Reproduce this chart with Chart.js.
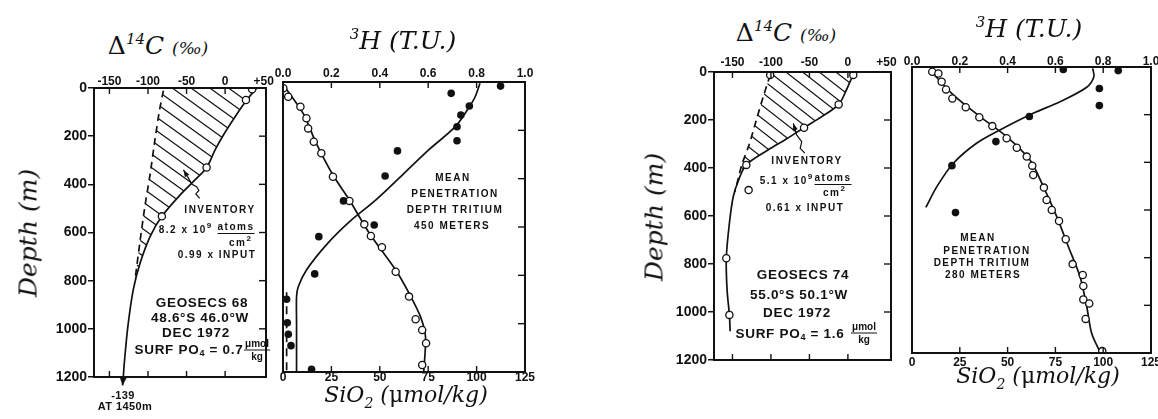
<!DOCTYPE html>
<html>
<head>
<meta charset="utf-8">
<title>GEOSECS 68 / 74 — bomb radiocarbon and tritium profiles</title>
<script src="https://cdn.jsdelivr.net/npm/chart.js@4.4.1/dist/chart.umd.min.js"></script>
<style>
  html, body { margin: 0; padding: 0; background: #fff; }
  body { width: 1158px; height: 419px; position: relative; overflow: hidden; color: #111; }
  .panel { position: absolute; }
  .panel canvas { display: block; }
  .t { position: absolute; transform: translate(-50%, -50%); white-space: nowrap; line-height: 1; }
  .ttl { font-family: 'DejaVu Serif', serif; font-style: italic; font-size: 25px; }
  .ttl sup { font-size: 15px; vertical-align: 10px; }
  .ttl sub { font-size: 14px; vertical-align: -6px; }
  .ttl .pm { font-size: 17px; }
  .ttl .up { font-style: normal; }
  .ttl.si { font-size: 22px; }
  .vert { transform: translate(-50%, -50%) rotate(-90deg); }
  .cap { font-family: 'Liberation Sans', Arial, sans-serif; font-weight: bold; font-size: 10px; letter-spacing: 1.5px; }
  .cap sup { font-size: 8px; vertical-align: 5px; letter-spacing: 0; }
  .ul { border-bottom: 1.4px solid #111; padding-bottom: 1px; }
  .stn { font-family: 'Liberation Sans', Arial, sans-serif; font-weight: bold; font-size: 13.5px; letter-spacing: 0.7px; }
  .stn sub { font-size: 9px; vertical-align: -2px; }
  .unit { font-family: 'Liberation Sans', Arial, sans-serif; font-weight: bold; font-size: 10px; text-align: center; }
  .unit span { display: block; padding: 0 1px; }
  .unit span:first-child { border-bottom: 1.4px solid #111; padding-bottom: 1px; margin-bottom: 1px; }
  .small { font-family: 'Liberation Sans', Arial, sans-serif; font-weight: bold; font-size: 11px; letter-spacing: 0.4px; }
</style>
</head>
<body>

<div class="panel" style="left:40px;top:60px"><canvas id="st68c14" width="240" height="340"></canvas></div>
<div class="panel" style="left:268px;top:60px"><canvas id="st68h3" width="276" height="330"></canvas></div>
<div class="panel" style="left:660px;top:50px"><canvas id="st74c14" width="245" height="330"></canvas></div>
<div class="panel" style="left:897px;top:45px"><canvas id="st74h3" width="261" height="330"></canvas></div>

<!-- Station 68: radiocarbon panel -->
<div class="t ttl" style="left:158px;top:45px"><span class="up">Δ</span><sup>14</sup>C <span class="pm">(‰)</span></div>
<div class="t ttl vert" style="left:28px;top:233px">Depth (m)</div>
<div class="t cap" style="left:220px;top:210px">INVENTORY</div>
<div class="t cap" style="left:185px;top:228px">8.2 x 10<sup>9</sup></div>
<div class="t cap" style="left:236px;top:227px"><span class="ul">atoms</span></div>
<div class="t cap" style="left:240px;top:241px">cm<sup>2</sup></div>
<div class="t cap" style="left:217px;top:255px">0.99 x INPUT</div>
<div class="t stn" style="left:202px;top:303px">GEOSECS 68</div>
<div class="t stn" style="left:200px;top:318px">48.6°S 46.0°W</div>
<div class="t stn" style="left:196px;top:333px">DEC 1972</div>
<div class="t stn" style="left:189px;top:350px">SURF PO<sub>4</sub> = 0.7</div>
<div class="t unit" style="left:257px;top:350px"><span>μmol</span><span>kg</span></div>
<div class="t small" style="left:123px;top:395px">-139</div>
<div class="t small" style="left:125px;top:406px">AT 1450m</div>

<!-- Station 68: tritium / silica panel -->
<div class="t ttl" style="left:403px;top:40px"><sup>3</sup>H (T.U.)</div>
<div class="t cap" style="left:453px;top:178px">MEAN</div>
<div class="t cap" style="left:455px;top:194px">PENETRATION</div>
<div class="t cap" style="left:455px;top:210px">DEPTH TRITIUM</div>
<div class="t cap" style="left:452px;top:226px">450 METERS</div>
<div class="t ttl si" style="left:406px;top:397px">SiO<sub>2</sub> (<span class="up">μ</span>mol/kg)</div>

<!-- Station 74: radiocarbon panel -->
<div class="t ttl" style="left:786px;top:32px"><span class="up">Δ</span><sup>14</sup>C <span class="pm">(‰)</span></div>
<div class="t ttl vert" style="left:654px;top:217px">Depth (m)</div>
<div class="t cap" style="left:807px;top:161px">INVENTORY</div>
<div class="t cap" style="left:786px;top:179px">5.1 x 10<sup>9</sup></div>
<div class="t cap" style="left:833px;top:178px"><span class="ul">atoms</span></div>
<div class="t cap" style="left:834px;top:191px">cm<sup>2</sup></div>
<div class="t cap" style="left:805px;top:208px">0.61 x INPUT</div>
<div class="t stn" style="left:803px;top:275px">GEOSECS 74</div>
<div class="t stn" style="left:799px;top:295px">55.0°S 50.1°W</div>
<div class="t stn" style="left:797px;top:313px">DEC 1972</div>
<div class="t stn" style="left:790px;top:334px">SURF PO<sub>4</sub> = 1.6</div>
<div class="t unit" style="left:864px;top:333px"><span>μmol</span><span>kg</span></div>

<!-- Station 74: tritium / silica panel -->
<div class="t ttl" style="left:1029px;top:28px"><sup>3</sup>H (T.U.)</div>
<div class="t cap" style="left:978px;top:238px">MEAN</div>
<div class="t cap" style="left:987px;top:251px">PENETRATION</div>
<div class="t cap" style="left:982px;top:263px">DEPTH TRITIUM</div>
<div class="t cap" style="left:983px;top:275px">280 METERS</div>
<div class="t ttl si" style="left:1038px;top:378px">SiO<sub>2</sub> (<span class="up">μ</span>mol/kg)</div>

<script>
const INK = '#111';

// ---------- axis ticks ----------
const depthTicks = [0, 200, 400, 600, 800, 1000, 1200];
const depthLabels = ['0', '200', '400', '600', '800', '1000', '1200'];
const c14Ticks = [-150, -100, -50, 0, 50];
const c14Labels = ['-150', '-100', '-50', '0', '+50'];
const tritiumTicks = [0, 0.2, 0.4, 0.6, 0.8, 1.0];
const tritiumLabels = ['0.0', '0.2', '0.4', '0.6', '0.8', '1.0'];
const silicaTicks = [0, 25, 50, 75, 100, 125];
const silicaLabels = ['0', '25', '50', '75', '100', '125'];

// ---------- GEOSECS 68: Δ14C (‰) vs depth (m) ----------
const st68C14Depth = [5, 50, 330, 533];
const st68C14 = [35, 27, -24, -82];
const st68ProfileDepth = [0, 50, 119, 194, 257, 330, 388, 443, 533, 615, 725, 836, 988, 1153, 1200, 1235];
const st68Profile = [41, 28, 13, -2, -13, -24, -41, -58, -82, -97, -110, -119, -126, -131, -132, -133];
const st68PreBombDepth = [11, 91, 215, 353, 491, 629, 800];
const st68PreBomb = [-80, -85, -91, -97, -104, -110, -117];
const st68PointerDepth = [340, 372, 400, 410, 425, 440, 458];
const st68Pointer = [-54, -48, -43, -37, -34, -38, -33];

// ---------- GEOSECS 68: silica (µmol/kg) and tritium (T.U.) ----------
const st68SiDepth = [26, 61, 102, 150, 192, 247, 295, 392, 492, 589, 637, 684, 785, 888, 982, 1026, 1081, 1171];
const st68Si = [0.2, 2.7, 9.0, 12.1, 13.0, 15.9, 19.8, 25.8, 34.3, 42.0, 45.4, 51.1, 58.2, 65.1, 68.5, 71.9, 73.9, 71.9];
const st68SiFitDepth = [10, 130, 254, 385, 488, 626, 778, 874, 971, 1054, 1199];
const st68SiFit = [0, 10.4, 17.2, 25.8, 34.3, 44.6, 58.2, 65.1, 71.0, 73.6, 72.7];
const st68TDepth = [17, 47, 99, 137, 185, 243, 285, 389, 492, 592, 640, 794, 899, 996, 1044, 1091, 1189];
const st68T = [0.899, 0.695, 0.770, 0.735, 0.719, 0.719, 0.473, 0.422, 0.250, 0.377, 0.148, 0.131, 0.015, 0.018, 0.022, 0.033, 0.118];
const st68TFitDepth = [5, 61, 109, 185, 281, 385, 488, 578, 674, 778, 847, 888, 1000, 1200];
const st68TFit = [0.814, 0.794, 0.766, 0.712, 0.602, 0.493, 0.384, 0.275, 0.179, 0.097, 0.063, 0.056, 0.056, 0.056];
const st68TDeepDepth = [870, 1200];
const st68TDeep = [0.015, 0.015];

// ---------- GEOSECS 74: Δ14C (‰) vs depth (m) ----------
const st74C14Depth = [12, 12, 135, 232, 387, 492, 776, 1012];
const st74C14 = [-101, 7, -12, -57, -132, -129, -158, -154];
const st74ProfileDepth = [0, 12, 75, 135, 186, 232, 281, 325, 387, 450, 520, 631, 776, 908, 1012, 1080];
const st74Profile = [11, 7, -2, -12, -34, -57, -81, -104, -132, -142, -149, -154, -158, -157, -154, -153];
const st74PreBombDepth = [12, 103, 200, 300, 387, 450, 500];
const st74PreBomb = [-101, -110, -119, -128, -138, -143, -147];
const st74PointerDepth = [214, 262, 290, 318, 338];
const st74Pointer = [-71, -66.6, -60, -62, -56];

// ---------- GEOSECS 74: silica (µmol/kg) and tritium (T.U.) ----------
const st74SiDepth = [20, 27, 62, 94, 132, 169, 211, 248, 299, 339, 376, 414, 453, 506, 558, 600, 646, 723, 827, 873, 919, 975, 992, 1057, 1192];
const st74Si = [10.6, 13.8, 15.5, 17.8, 21.1, 28.1, 35.2, 42.0, 49.5, 54.8, 60.0, 62.9, 63.4, 69.0, 70.4, 73.1, 76.9, 80.4, 84.0, 89.3, 89.6, 89.6, 92.7, 90.8, 99.5];
const st74SiFitDepth = [13, 117, 208, 292, 390, 502, 628, 754, 880, 1006, 1118, 1195];
const st74SiFit = [9.4, 21.6, 35.6, 49.5, 61.7, 68.7, 75.7, 81.8, 87.9, 91.4, 94.0, 98.3];
const st74TDepth = [10, 15, 90, 162, 208, 313, 414, 611];
const st74T = [0.633, 0.863, 0.784, 0.784, 0.491, 0.351, 0.167, 0.182];
const st74TFitDepth = [6, 41, 85, 146, 194, 264, 320, 404, 502, 589];
const st74TFit = [0.756, 0.761, 0.731, 0.619, 0.507, 0.368, 0.270, 0.173, 0.104, 0.058];

// ---------- helpers ----------
const pairs = (values, depths) => values.map((v, i) => ({ x: v, y: depths[i] }));

function curve(values, depths, extra) {
  return Object.assign({
    data: pairs(values, depths), borderColor: INK, borderWidth: 1.7,
    pointRadius: 0, tension: 0.35, fill: false
  }, extra || {});
}
function openDots(values, depths, extra) {
  return Object.assign({
    data: pairs(values, depths), showLine: false, pointRadius: 3.6,
    pointBackgroundColor: '#fff', pointBorderColor: INK, pointBorderWidth: 1.3
  }, extra || {});
}
function solidDots(values, depths, extra) {
  return Object.assign({
    data: pairs(values, depths), showLine: false, pointRadius: 3.8,
    pointBackgroundColor: INK, pointBorderColor: INK, pointBorderWidth: 0
  }, extra || {});
}

const fixedHeight = h => s => { s.height = h; s.paddingLeft = 0; s.paddingRight = 0; };
const fixedWidth = w => s => { s.width = w; s.paddingTop = 0; s.paddingBottom = 0; };
const useTicks = values => s => { s.ticks = values.map(v => ({ value: v })); };

function valueAxis(position, min, max, values, labels, height, padding) {
  return {
    type: 'linear', position, min, max,
    afterBuildTicks: useTicks(values), afterFit: fixedHeight(height),
    grid: { display: false, drawTicks: false }, border: { display: false },
    ticks: {
      padding, autoSkip: false, maxRotation: 0, minRotation: 0, color: INK,
      font: { size: 12, weight: 'bold' }, callback: (v, i) => labels[i]
    }
  };
}
function depthAxis(width) {
  return {
    type: 'linear', position: 'left', reverse: true, min: 0, max: 1200,
    afterBuildTicks: useTicks(depthTicks), afterFit: fixedWidth(width),
    grid: { display: true, drawOnChartArea: false, drawTicks: true, tickLength: 6, color: INK, lineWidth: 1.5 },
    border: { display: false },
    ticks: { padding: 1, color: INK, font: { size: 14, weight: 'bold' }, callback: (v, i) => depthLabels[i] }
  };
}
const hiddenDepthAxis = () => ({ type: 'linear', display: false, reverse: true, min: 0, max: 1200 });

function arrowHead(ctx, tip, from, len, half) {
  const a = Math.atan2(tip.y - from.y, tip.x - from.x);
  const c = Math.cos(a), s = Math.sin(a);
  ctx.beginPath();
  ctx.moveTo(tip.x, tip.y);
  ctx.lineTo(tip.x - len * c + half * s, tip.y - len * s - half * c);
  ctx.lineTo(tip.x - len * c - half * s, tip.y - len * s + half * c);
  ctx.closePath();
  ctx.fill();
}

// diagonal hatching between the pre-bomb line (left) and the measured profile (right)
function hatchBetween(chart, h) {
  const ctx = chart.ctx, a = chart.chartArea;
  const outer = chart.getDatasetMeta(h.outer).dataset;
  const inner = chart.getDatasetMeta(h.inner).dataset;
  [outer, inner].forEach(l => { if (l.updateControlPoints) l.updateControlPoints(a, 'x'); });
  ctx.save();
  ctx.beginPath(); ctx.rect(a.left, a.top, a.right - a.left, a.bottom - a.top); ctx.clip();
  let p = outer.points;
  ctx.beginPath(); outer.path(ctx);
  ctx.lineTo(a.left - 40, p[p.length - 1].y);
  ctx.lineTo(a.left - 40, a.top - 40);
  ctx.lineTo(p[0].x, a.top - 40);
  ctx.closePath(); ctx.clip();
  p = inner.points;
  ctx.beginPath(); inner.path(ctx);
  ctx.lineTo(a.right + 40, p[p.length - 1].y);
  ctx.lineTo(a.right + 40, a.top - 40);
  ctx.lineTo(p[0].x, a.top - 40);
  ctx.closePath(); ctx.clip();
  ctx.strokeStyle = INK; ctx.lineWidth = 1.2;
  ctx.beginPath();
  const w = a.right - a.left;
  for (let y = a.top - h.slope * w - h.gap + h.phase; y < a.bottom + h.gap; y += h.gap) {
    ctx.moveTo(a.left, y); ctx.lineTo(a.right, y + h.slope * w);
  }
  ctx.stroke();
  ctx.restore();
}

function profileDecor(spec) {
  return {
    id: 'profileDecor',
    beforeDatasetsDraw(chart) { if (spec.hatch) hatchBetween(chart, spec.hatch); },
    afterDatasetsDraw(chart) {
      const ctx = chart.ctx, a = chart.chartArea;
      ctx.save();
      ctx.strokeStyle = INK; ctx.fillStyle = INK;
      ctx.lineWidth = 2;
      ctx.strokeRect(a.left, a.top, a.right - a.left, a.bottom - a.top);
      ctx.lineWidth = 1.4;
      (spec.ticks || []).forEach(t => {
        const s = chart.scales[t.scale];
        t.values.forEach(v => {
          const q = s.getPixelForValue(v);
          ctx.beginPath();
          if (t.side === 'top') { ctx.moveTo(q, a.top); ctx.lineTo(q, a.top + 6); }
          if (t.side === 'bottom') { ctx.moveTo(q, a.bottom); ctx.lineTo(q, a.bottom - 6); }
          if (t.side === 'right') { ctx.moveTo(a.right, q); ctx.lineTo(a.right - 7, q); }
          if (t.side === 'left') { ctx.moveTo(a.left, q); ctx.lineTo(a.left + 7, q); }
          ctx.stroke();
        });
      });
      (spec.pointers || []).forEach(ptr => {
        const xs = chart.scales.x, ys = chart.scales.y;
        const pts = ptr.values.map((v, i) => ({ x: xs.getPixelForValue(v), y: ys.getPixelForValue(ptr.depths[i]) }));
        ctx.lineWidth = 1.2;
        ctx.beginPath();
        pts.forEach((q, i) => i ? ctx.lineTo(q.x, q.y) : ctx.moveTo(q.x, q.y));
        ctx.stroke();
        arrowHead(ctx, pts[0], pts[1], 7, 2.6);
      });
      if (spec.endArrow != null) {
        const pts = chart.getDatasetMeta(spec.endArrow).data;
        arrowHead(ctx, pts[pts.length - 1], pts[pts.length - 2], 8, 3.5);
      }
      ctx.restore();
    }
  };
}

const baseOptions = (padding, scales) => ({
  responsive: false, animation: false, events: [],
  layout: { padding },
  plugins: { legend: { display: false }, tooltip: { enabled: false } },
  scales
});

const innerC14 = c14Ticks.slice(0, -1);
const innerDepth = depthTicks.slice(1, -1);
const innerTritium = tritiumTicks.slice(1, -1);
const innerSilica = silicaTicks.slice(1, -1);

// ---------- GEOSECS 68 radiocarbon ----------
new Chart(document.getElementById('st68c14'), {
  type: 'line',
  data: {
    datasets: [
      openDots(st68C14, st68C14Depth),
      curve(st68Profile, st68ProfileDepth, { clip: false }),
      curve(st68PreBomb, st68PreBombDepth, { borderDash: [7, 5], tension: 0.2 })
    ]
  },
  options: baseOptions({ left: 0, top: 0, right: 14, bottom: 23 }, {
    x: valueAxis('top', -170, 53, c14Ticks, c14Labels, 28, -1),
    y: depthAxis(54)
  }),
  plugins: [profileDecor({
    hatch: { outer: 1, inner: 2, slope: 0.72, gap: 13.5, phase: 0 },
    ticks: [
      { side: 'top', scale: 'x', values: innerC14 },
      { side: 'bottom', scale: 'x', values: innerC14 },
      { side: 'right', scale: 'y', values: innerDepth }
    ],
    pointers: [{ values: st68Pointer, depths: st68PointerDepth }],
    endArrow: 1
  })]
});

// ---------- GEOSECS 68 tritium and silica ----------
new Chart(document.getElementById('st68h3'), {
  type: 'line',
  data: {
    datasets: [
      solidDots(st68T, st68TDepth, { xAxisID: 'xt' }),
      openDots(st68Si, st68SiDepth, { xAxisID: 'x' }),
      curve(st68SiFit, st68SiFitDepth, { xAxisID: 'x', tension: 0.3 }),
      curve(st68TFit, st68TFitDepth, { xAxisID: 'xt', tension: 0.3 }),
      curve(st68TDeep, st68TDeepDepth, { xAxisID: 'xt', tension: 0, borderDash: [8, 6] })
    ]
  },
  options: baseOptions({ left: 15, top: 0, right: 19, bottom: 4 }, {
    xt: valueAxis('top', 0, 1, tritiumTicks, tritiumLabels, 22, 1),
    x: valueAxis('bottom', 0, 125, silicaTicks, silicaLabels, 14, -2),
    y: hiddenDepthAxis()
  }),
  plugins: [profileDecor({
    ticks: [
      { side: 'top', scale: 'xt', values: innerTritium },
      { side: 'bottom', scale: 'x', values: innerSilica },
      { side: 'right', scale: 'y', values: innerDepth }
    ]
  })]
});

// ---------- GEOSECS 74 radiocarbon ----------
new Chart(document.getElementById('st74c14'), {
  type: 'line',
  data: {
    datasets: [
      openDots(st74C14, st74C14Depth),
      curve(st74Profile, st74ProfileDepth),
      curve(st74PreBomb, st74PreBombDepth, { borderDash: [7, 5], tension: 0.2 })
    ]
  },
  options: baseOptions({ left: 0, top: 0, right: 14, bottom: 20 }, {
    x: valueAxis('top', -174, 56, c14Ticks, c14Labels, 22, 2),
    y: depthAxis(54)
  }),
  plugins: [profileDecor({
    hatch: { outer: 1, inner: 2, slope: 0.78, gap: 13, phase: 4 },
    ticks: [
      { side: 'top', scale: 'x', values: innerC14 },
      { side: 'bottom', scale: 'x', values: innerC14 },
      { side: 'right', scale: 'y', values: innerDepth }
    ],
    pointers: [{ values: st74Pointer, depths: st74PointerDepth }]
  })]
});

// ---------- GEOSECS 74 tritium and silica ----------
new Chart(document.getElementById('st74h3'), {
  type: 'line',
  data: {
    datasets: [
      solidDots(st74T, st74TDepth, { xAxisID: 'xt' }),
      openDots(st74Si, st74SiDepth, { xAxisID: 'x' }),
      curve(st74SiFit, st74SiFitDepth, { xAxisID: 'x', tension: 0.3 }),
      curve(st74TFit, st74TFitDepth, { xAxisID: 'xt', tension: 0.3 })
    ]
  },
  options: baseOptions({ left: 15, top: 0, right: 7, bottom: 8 }, {
    xt: valueAxis('top', 0, 1, tritiumTicks, tritiumLabels, 22, -2),
    x: valueAxis('bottom', 0, 125, silicaTicks, silicaLabels, 14, 2),
    y: hiddenDepthAxis()
  }),
  plugins: [profileDecor({
    ticks: [
      { side: 'top', scale: 'xt', values: innerTritium },
      { side: 'bottom', scale: 'x', values: innerSilica },
      { side: 'right', scale: 'y', values: innerDepth }
    ]
  })]
});
</script>
</body>
</html>
